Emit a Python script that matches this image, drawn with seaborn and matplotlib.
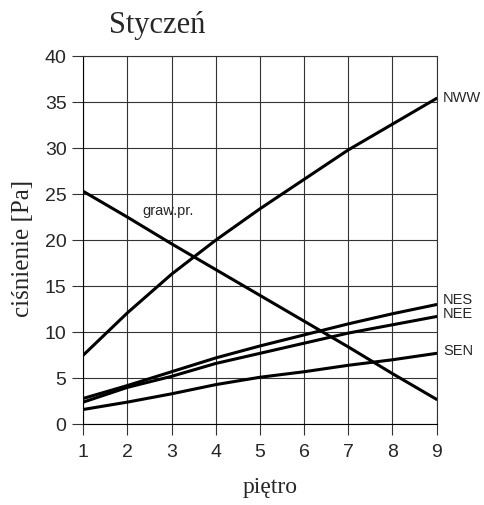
import matplotlib
matplotlib.use("Agg")
import matplotlib.pyplot as plt
import seaborn as sns
import pandas as pd

# Floors and wind-driven / stack pressures [Pa]
floors = [1, 2, 3, 4, 5, 6, 7, 8, 9]
graw_pr = [25.3, 22.5, 19.6, 16.8, 14.0, 11.2, 8.4, 5.5, 2.7]
nww = [7.5, 12.1, 16.3, 20.0, 23.4, 26.6, 29.8, 32.6, 35.4]
nes = [2.8, 4.2, 5.7, 7.2, 8.5, 9.7, 10.9, 12.0, 13.0]
nee = [2.4, 4.0, 5.2, 6.6, 7.7, 8.8, 9.9, 10.8, 11.7]
sen = [1.6, 2.4, 3.3, 4.3, 5.1, 5.7, 6.4, 7.0, 7.7]

series_names = ["graw.pr.", "NWW", "NES", "NEE", "SEN"]
series_values = [graw_pr, nww, nes, nee, sen]

x_ticks = [1, 2, 3, 4, 5, 6, 7, 8, 9]
y_ticks = [0, 5, 10, 15, 20, 25, 30, 35, 40]

df = pd.concat(
    [pd.DataFrame({"pietro": floors, "p": vals, "seria": name})
     for name, vals in zip(series_names, series_values)],
    ignore_index=True,
)

sns.set_style("white")
plt.rcParams["font.family"] = ["Liberation Sans", "DejaVu Sans"]

fig = plt.figure(figsize=(4.84, 5.05), dpi=100)
ax = fig.add_axes([0.172, 0.160, 0.730, 0.729])

sns.lineplot(data=df, x="pietro", y="p", units="seria", estimator=None,
             color="black", linewidth=2.2, ax=ax, legend=False)

ax.set_xlim(1, 9)
ax.set_ylim(0, 40)
ax.set_xticks(x_ticks)
ax.set_yticks(y_ticks)
ax.grid(True, color="#333333", linewidth=0.8)
ax.set_axisbelow(True)
for s in ax.spines.values():
    s.set_color("#333333")
    s.set_linewidth(0.8)
ax.spines["left"].set_color("black")
ax.spines["bottom"].set_color("black")
ax.tick_params(direction="out", length=8, width=0.8, color="#333333",
               labelsize=14, pad=4, left=True, bottom=True)
ax.tick_params(axis="x", pad=6)
ax.set_xlabel("")
ax.set_ylabel("")

# Line names at the right end of each curve
ax.text(9.15, nww[-1], "NWW", fontsize=10.5, va="center", ha="left", clip_on=False)
ax.text(9.15, nes[-1] + 0.45, "NES", fontsize=10.5, va="center", ha="left", clip_on=False)
ax.text(9.15, nee[-1] + 0.3, "NEE", fontsize=10.5, va="center", ha="left", clip_on=False)
ax.text(9.15, sen[-1] + 0.2, "SEN", fontsize=10.5, va="center", ha="left", clip_on=False)
ax.text(2.35, 23.2, "graw.pr.", fontsize=10.5, va="center", ha="left")

serif = ["Liberation Serif", "DejaVu Serif"]
fig.text(157 / 484, 1 - 25 / 505, "Styczeń", family=serif, fontsize=22,
         ha="center", va="center")
fig.text(23 / 484, 1 - 248 / 505, "ciśnienie [Pa]", family=serif, fontsize=18,
         ha="center", va="center", rotation=90)
fig.text(270 / 484, 1 - 487 / 505, "piętro", family=serif, fontsize=17,
         ha="center", va="center")

fig.savefig("out.png", dpi=100)
